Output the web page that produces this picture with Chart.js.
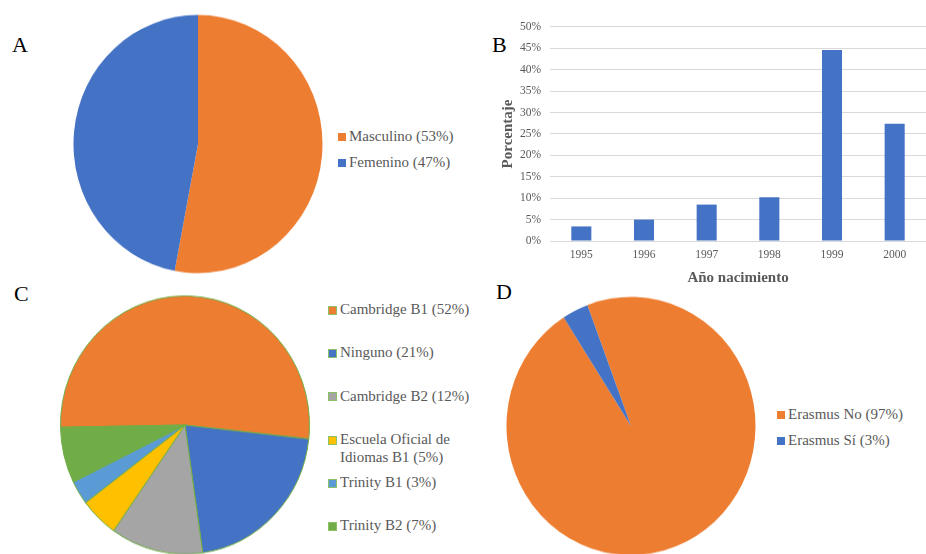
<!DOCTYPE html>
<html>
<head>
<meta charset="utf-8">
<script src="https://cdn.jsdelivr.net/npm/chart.js@4.4.0/dist/chart.umd.min.js"></script>
<style>
  body { margin: 0; width: 926px; height: 554px; overflow: hidden; background: #fff; font-family: 'Liberation Serif', 'Times New Roman', serif; position: relative; }
  .box { position: absolute; }
  .pie { position: absolute; width: 256px; height: 256px; transform: scaleY(1.037); transform-origin: 50% 50%; }
  .tag { position: absolute; font-size: 22px; line-height: 22px; color: #000; }
  .legend { position: absolute; font-size: 15px; color: #595959; }
  .legend .row { display: flex; align-items: flex-start; }
  .legend .sq { flex: none; box-sizing: border-box; margin-right: 3px; }
  .legend .txt { white-space: pre-line; }
</style>
</head>
<body>
<div class="tag" style="left:12px;top:34px">A</div>
<div class="tag" style="left:492px;top:34px">B</div>
<div class="tag" style="left:14px;top:283px">C</div>
<div class="tag" style="left:496px;top:281px">D</div>

<div class="pie" style="left:70px;top:16px"><canvas id="chartA" width="256" height="256"></canvas></div>
<div class="box" style="left:499px;top:11px"><canvas id="chartB" width="427" height="276"></canvas></div>
<div class="pie" style="left:57px;top:297px"><canvas id="chartC" width="256" height="256"></canvas></div>
<div class="pie" style="left:503px;top:298px"><canvas id="chartD" width="256" height="256"></canvas></div>

<div class="legend" id="legendA" style="left:338px;top:127px"></div>
<div class="legend" id="legendC" style="left:328px;top:300px"></div>
<div class="legend" id="legendD" style="left:777px;top:405px"></div>

<script>
// A - sexo
const sexLabels = ['Masculino (53%)', 'Femenino (47%)'];
const sexValues = [53, 47];
const sexColors = ['#ED7D31', '#4472C4'];

// B - año de nacimiento
const years = ['1995', '1996', '1997', '1998', '1999', '2000'];
const yearPct = [3.4, 5.0, 8.5, 10.2, 44.6, 27.4];

// C - certificado de inglés
const certLabels = ['Cambridge B1 (52%)', 'Ninguno (21%)', 'Cambridge B2 (12%)',
  'Escuela Oficial de\nIdiomas B1 (5%)', 'Trinity B1 (3%)', 'Trinity B2 (7%)'];
const certValues = [52, 21, 12, 5, 3, 7];
const certColors = ['#ED7D31', '#4472C4', '#A5A5A5', '#FFC000', '#5B9BD5', '#70AD47'];

// D - Erasmus
const erasmusLabels = ['Erasmus No (97%)', 'Erasmus Sí (3%)'];
const erasmusValues = [96.6, 3.4];
const erasmusColors = ['#ED7D31', '#4472C4'];

const grey = '#595959';
const serif = 'Liberation Serif';

function pieChart(id, labels, values, colors, rotation, border) {
    new Chart(document.getElementById(id), {
        type: 'pie',
        data: {
            labels: labels,
            datasets: [{
                data: values,
                backgroundColor: colors,
                borderColor: border || '#ffffff',
                borderWidth: border ? 1 : 0,
                radius: 124.5,
                rotation: rotation
            }]
        },
        options: {
            responsive: false,
            animation: false,
            layout: { padding: 0 },
            plugins: { legend: { display: false }, tooltip: { enabled: false } }
        }
    });
}

function makeLegend(id, labels, colors, rowHeight, lineHeight, size, border) {
    const el = document.getElementById(id);
    labels.forEach((text, i) => {
        const row = document.createElement('div');
        row.className = 'row';
        row.style.height = rowHeight + 'px';
        row.style.lineHeight = lineHeight + 'px';
        const sq = document.createElement('span');
        sq.className = 'sq';
        sq.style.width = size + 'px';
        sq.style.height = size + 'px';
        sq.style.background = colors[i];
        sq.style.marginTop = ((lineHeight - size) / 2 + 1) + 'px';
        if (border) sq.style.border = '1px solid ' + border;
        const txt = document.createElement('span');
        txt.className = 'txt';
        txt.textContent = text;
        row.appendChild(sq);
        row.appendChild(txt);
        el.appendChild(row);
    });
}

pieChart('chartA', sexLabels, sexValues, sexColors, 0);
pieChart('chartC', certLabels, certValues, certColors, 269, '#70AD47');
pieChart('chartD', erasmusLabels, erasmusValues, erasmusColors, -20.5);

makeLegend('legendA', sexLabels, sexColors, 26, 18, 8);
makeLegend('legendC', certLabels, certColors, 43.3, 18.3, 9, '#8CC168');
makeLegend('legendD', erasmusLabels, erasmusColors, 25.7, 18, 8);

new Chart(document.getElementById('chartB'), {
    type: 'bar',
    data: {
        labels: years,
        datasets: [{
            data: yearPct,
            backgroundColor: '#4472C4',
            barPercentage: 0.32,
            categoryPercentage: 1
        }]
    },
    options: {
        responsive: false,
        animation: false,
        layout: { padding: 0 },
        plugins: { legend: { display: false }, tooltip: { enabled: false } },
        scales: {
            x: {
                grid: { display: false, drawTicks: false },
                border: { display: false },
                ticks: { color: grey, font: { family: serif, size: 11.5 }, padding: 7 },
                title: { display: true, text: 'Año nacimiento', color: grey, padding: 0,
                         font: { family: serif, size: 15, weight: 'bold' } },
                afterFit: s => { s.height = 46; }
            },
            y: {
                min: 0,
                max: 50,
                grid: { color: '#D9D9D9', drawTicks: false },
                border: { display: false },
                ticks: { stepSize: 5, color: grey, padding: 9, font: { family: serif, size: 11.5 },
                         callback: v => v + '%' },
                title: { display: true, text: 'Porcentaje', color: grey, padding: 0,
                         font: { family: serif, size: 15, weight: 'bold' } },
                afterFit: s => { s.width = 51; }
            }
        }
    }
});
</script>
</body>
</html>
